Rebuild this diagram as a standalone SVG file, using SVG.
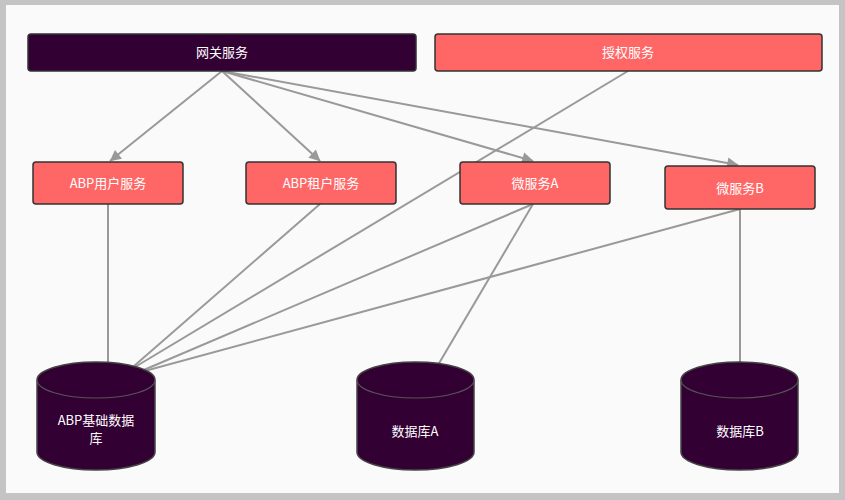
<svg xmlns="http://www.w3.org/2000/svg" width="845" height="500" viewBox="0 0 845 500">
<style>
.lbl{font-family:"Noto Sans CJK SC","Noto Sans",sans-serif;font-size:13px;fill:#fff;text-anchor:middle}
.box{fill:#ff6666;stroke:#333;stroke-width:1.5}
.dark{fill:#330033;stroke:#333;stroke-width:1.5}
.cyl{fill:#330033;stroke:#444;stroke-width:1.5}
.edge{stroke:#999;stroke-width:2;fill:none;marker-end:url(#ah)}
</style>
<defs><marker id="ah" viewBox="0 0 10 10" refX="9" refY="5" markerWidth="7" markerHeight="7" orient="auto" markerUnits="userSpaceOnUse" style="overflow:visible"><path d="M0,0 L10,5 L0,10 Z" fill="#999" transform="scale(1.6) translate(-4,-2)"/></marker></defs>
<rect x="0" y="0" width="845" height="500" fill="#c4c4c4"/>
<rect x="6" y="5" width="833" height="488" fill="#fafafa"/>
<g id="connectors">
<line class="edge" x1="222" y1="71" x2="110" y2="161"/>
<line class="edge" x1="222" y1="71" x2="320" y2="161"/>
<line class="edge" x1="222" y1="71" x2="533" y2="161"/>
<line class="edge" x1="222" y1="71" x2="738" y2="165"/>
<line class="edge" x1="628" y1="71" x2="115" y2="379"/>
<line class="edge" x1="108" y1="204" x2="108" y2="382"/>
<line class="edge" x1="320" y1="204" x2="118" y2="380"/>
<line class="edge" x1="533" y1="204" x2="125" y2="378"/>
<line class="edge" x1="533" y1="204" x2="428" y2="382"/>
<line class="edge" x1="740" y1="209" x2="130" y2="375"/>
<line class="edge" x1="740" y1="209" x2="740" y2="375"/>
</g>
<g id="gateway"><rect class="dark" x="28" y="34" width="388" height="37" rx="3"/><text class="lbl" x="222" y="57">网关服务</text></g>
<g id="auth"><rect class="box" x="435" y="34" width="387" height="37" rx="3"/><text class="lbl" x="628" y="57">授权服务</text></g>
<g id="user"><rect class="box" x="33" y="162" width="150" height="42" rx="3"/><text class="lbl" x="108" y="188">ABP用户服务</text></g>
<g id="tenant"><rect class="box" x="246" y="162" width="150" height="42" rx="3"/><text class="lbl" x="321" y="188">ABP租户服务</text></g>
<g id="msa"><rect class="box" x="460" y="162" width="150" height="42" rx="3"/><text class="lbl" x="535" y="188">微服务A</text></g>
<g id="msb"><rect class="box" x="665" y="166" width="150" height="43" rx="3"/><text class="lbl" x="740" y="193">微服务B</text></g>
<g id="db1"><path class="cyl" d="M37,380 A59,18 0 0 1 155,380 V452 A59,18 0 0 1 37,452 Z"/><path d="M37,380 A59,18 0 0 0 155,380" fill="none" stroke="#555" stroke-width="1.2"/><text class="lbl" x="96" y="425">ABP基础数据</text><text class="lbl" x="96" y="443">库</text></g>
<g id="dba"><path class="cyl" d="M357,380 A58.5,18 0 0 1 474,380 V452 A58.5,18 0 0 1 357,452 Z"/><path d="M357,380 A58.5,18 0 0 0 474,380" fill="none" stroke="#555" stroke-width="1.2"/><text class="lbl" x="415" y="436">数据库A</text></g>
<g id="dbb"><path class="cyl" d="M681,380 A58.5,18 0 0 1 798,380 V452 A58.5,18 0 0 1 681,452 Z"/><path d="M681,380 A58.5,18 0 0 0 798,380" fill="none" stroke="#555" stroke-width="1.2"/><text class="lbl" x="740" y="436">数据库B</text></g>
</svg>
